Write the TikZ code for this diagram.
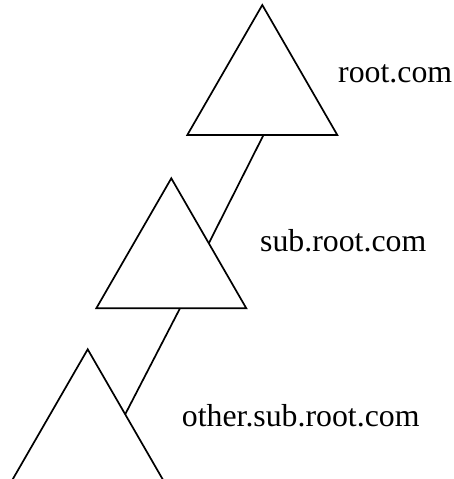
\documentclass[tikz,border=0pt]{standalone}
\usepackage{fontspec}
\setmainfont{Liberation Serif}
\usetikzlibrary{calc}
\begin{document}
\begin{tikzpicture}[x=1pt,y=-1pt,
  tri/.style={draw=black,line width=1.7pt,line join=miter},
  link/.style={draw=black,line width=1.7pt},
  lbl/.style={anchor=base west,inner sep=0pt,font=\fontsize{31.8}{38}\selectfont}]
\useasboundingbox (0,0) rectangle (454,479);
% triangle 1
\coordinate (t1a) at (262.3,5);
\coordinate (t1l) at (187.3,135);
\coordinate (t1r) at (337.3,135);
\draw[tri] (t1a) -- (t1l) -- (t1r) -- cycle;
% triangle 2
\coordinate (t2a) at (171.3,178.3);
\coordinate (t2l) at (96.3,308.3);
\coordinate (t2r) at (246.3,308.3);
\draw[tri] (t2a) -- (t2l) -- (t2r) -- cycle;
% triangle 3 (base below picture, only its sides show)
\coordinate (t3a) at (87.7,349.3);
\coordinate (t3l) at (12.7,479.3);
\coordinate (t3r) at (162.7,479.3);
\begin{scope}
\clip (0,0) rectangle (454,479);
\draw[tri] ($(t3a)!1.05!(t3l)$) -- (t3a) -- ($(t3a)!1.05!(t3r)$);
\end{scope}
% connector anchors
\coordinate (c1a) at (263.5,135);
\coordinate (c1b) at ($(t2a)!0.5!(t2r)$);
\coordinate (c2a) at (180,308.3);
\coordinate (c2b) at ($(t3a)!0.5!(t3r)$);
\draw[link] (c1a) -- (c1b);
\draw[link] (c2a) -- (c2b);
% labels
\node[lbl] (l1) at (338,82) {root.com};
\node[lbl] (l2) at (260,251.7) {sub.root.com};
\node[lbl] (l3) at (181.7,426.7) {other.sub.root.com};
\end{tikzpicture}
\end{document}
